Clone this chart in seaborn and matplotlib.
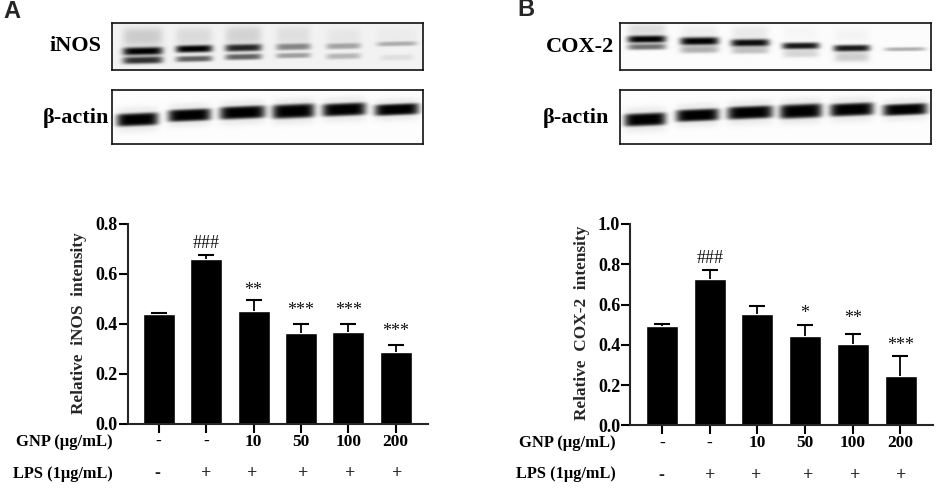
import numpy as np
import pandas as pd
import seaborn as sns
import matplotlib
matplotlib.use("Agg")
import matplotlib.pyplot as plt

# bar charts
groups = ["ctrl", "lps", "gnp10", "gnp50", "gnp100", "gnp200"]
gnp_labels = ["-", "-", "10", "50", "100", "200"]
lps_labels = ["-", "+", "+", "+", "+", "+"]

inos_mean = [0.439, 0.662, 0.452, 0.366, 0.368, 0.288]
inos_err = [0.006, 0.016, 0.045, 0.036, 0.033, 0.030]
inos_sig = ["", "###", "**", "***", "***", "***"]
cox_mean = [0.491, 0.728, 0.551, 0.443, 0.403, 0.243]
cox_err = [0.013, 0.043, 0.044, 0.056, 0.052, 0.099]
cox_sig = ["", "###", "", "*", "**", "***"]

# blot bands, measured on 3x crops of the picture: centre x, centre y, half width, half height, darkness
inos_bands = [
    ([428, 582, 730, 880, 1030, 1190], [153, 146, 143, 140, 138, 131], [60, 55, 55, 52, 52, 60], [12, 11, 11, 10, 9, 7], [1.0, 1.0, 0.85, 0.45, 0.32, 0.28]),
    ([428, 582, 730, 880, 1030, 1190], [180, 176, 170, 166, 168, 172], [60, 55, 55, 52, 52, 50], [11, 9, 9, 8, 9, 9], [0.8, 0.6, 0.6, 0.35, 0.25, 0.08]),
    ([428, 582, 730, 880, 1030, 1190], [110, 108, 105, 105, 110, 110], [60, 55, 55, 52, 52, 60], [28, 26, 28, 28, 26, 26], [0.16, 0.1, 0.13, 0.08, 0.05, 0.03]),
]
cox_bands = [
    ([530, 688, 840, 992, 1145, 1305], [117, 123, 128, 137, 144, 147], [58, 58, 58, 56, 55, 62], [11, 12, 11, 10, 10, 6], [1.0, 1.0, 0.95, 0.9, 0.9, 0.3]),
    ([530, 688, 840, 992, 1145, 1305], [140, 148, 150, 160, 170, 150], [58, 58, 56, 54, 52, 40], [9, 11, 11, 12, 15, 4], [0.55, 0.3, 0.24, 0.15, 0.18, 0.0]),
    ([530, 688, 840, 992, 1145, 1305], [88, 95, 100, 100, 105, 110], [58, 55, 55, 50, 50, 50], [18, 20, 22, 20, 20, 20], [0.12, 0.05, 0.07, 0.02, 0.03, 0.0]),
]
actin_y = [358, 345, 337, 333, 328, 328]
actin_hh = [19, 18, 19, 21, 19, 17]
actin_hw = [62, 64, 68, 63, 65, 66]
actin_haze = [38, 36, 38, 40, 38, 34]
actin_a_x = [412, 568, 727, 880, 1032, 1190]
actin_b_x = [525, 682, 840, 992, 1145, 1305]
actin_a = [(actin_a_x, actin_y, actin_hw, actin_hh, [1.0] * 6), (actin_a_x, actin_y, actin_hw, actin_haze, [0.08] * 6)]
actin_b = [(actin_b_x, actin_y, actin_hw, actin_hh, [1.0] * 6), (actin_b_x, actin_y, actin_hw, actin_haze, [0.08] * 6)]

sns.set_theme(style="ticks")
plt.rcParams["font.family"] = ["Liberation Serif", "DejaVu Sans"]
plt.rcParams["font.weight"] = "bold"

W, H = 941, 492
fig = plt.figure(figsize=(W / 100, H / 100), dpi=100, facecolor="white")


def px_axes(x0, x1, y0, y1):
    # y0 is the top edge, counted from the top of the picture
    return fig.add_axes([x0 / W, 1 - y1 / H, (x1 - x0) / W, (y1 - y0) / H])


def blot(box, crop_x, bands, paper, tilt, sharp):
    ax = px_axes(*box)
    x0, x1 = (box[0] - crop_x) * 3, (box[1] - crop_x) * 3
    y0, y1 = box[2] * 3, box[3] * 3
    xx, yy = np.meshgrid(np.arange(x0, x1), np.arange(y0, y1))
    clear = np.ones_like(xx, dtype=float)
    for row in bands:
        for cx, cy, hw, hh, d in zip(*row):
            dx = (xx - cx) / hw
            dy = (yy - cy - tilt * (xx - cx)) / hh
            clear *= 1 - d * np.exp(-(np.abs(dx) ** 6) - np.abs(dy) ** sharp)
    ax.imshow(paper * clear, cmap="gray", vmin=0, vmax=1, aspect="auto", interpolation="bilinear")
    ax.set_xticks([])
    ax.set_yticks([])
    for s in ax.spines.values():
        s.set_linewidth(1.2)
        s.set_color("#111111")


def bars(box, center0, step, means, errs, sig, sig_px, lps_shift, ymax, yticks, ylabel, lab_x, lab_y):
    ax = px_axes(*box)
    df = pd.DataFrame({"group": groups, "value": means})
    sns.barplot(data=df, x="group", y="value", color="black", saturation=1, width=32 / step, ax=ax)
    eb = ax.errorbar(range(6), means, yerr=[np.zeros(6), errs], fmt="none", ecolor="black",
                     elinewidth=1.3, capsize=5.5, capthick=1.5)
    eb[1][0].set_visible(False)
    ax.set_xlim((box[0] - center0) / step, (box[1] - center0) / step)
    ax.set_ylim(0, ymax)
    ax.patch.set_alpha(0)
    sns.despine(ax=ax)
    for s in ["left", "bottom"]:
        ax.spines[s].set_linewidth(1.5)
    ax.tick_params(axis="both", width=1.5, length=6.3, color="black", labelcolor="black")
    ax.set_yticks(yticks)
    ax.set_yticklabels(["%.1f" % t for t in yticks], fontsize=13, fontweight="bold")
    ax.tick_params(axis="y", pad=1)
    ax.set_xticks(range(6))
    ax.set_xticklabels(gnp_labels, fontsize=12.5, fontweight="bold")
    ax.tick_params(axis="x", pad=1)
    ax.set_xlabel("")
    ax.set_ylabel("")
    for i, s in enumerate(sig):
        if s:
            ax.annotate(s, (i, means[i] + errs[i]), xytext=(0, sig_px[i] * 0.72), textcoords="offset points",
                        ha="center", va="center", fontsize=13, fontweight="normal", color="#111111")
        ax.annotate(lps_labels[i], (i, 0), xytext=(lps_shift[i] * 0.72, -50 * 0.72),
                    textcoords="offset points", ha="center", va="center", fontsize=13, fontweight="bold")
    fig.text(lab_x / W, 1 - lab_y / H, ylabel, rotation=90, ha="center", va="center", fontsize=12.4, fontweight="bold")
    return ax


def txt(x, y, s, **kw):
    fig.text(x / W, 1 - y / H, s, va="center", fontweight="bold", color="black", **kw)


# panel A
blot((112, 423, 23, 70), 0, inos_bands, 0.95, -0.02, 3.0)
blot((112, 423, 90, 144), 0, actin_a, 0.99, -0.04, 5.0)
bars((127.7, 428, 224, 424), 158.7, 47.4, inos_mean, inos_err, inos_sig,
     [0, 11, 9, 13, 13, 13], [-1, 0, -1, 2, 1.5, 1], 0.8, [0, 0.2, 0.4, 0.6, 0.8],
     "Relative  iNOS  intensity", 79, 323)

# panel B
blot((620, 931, 23, 70), 470, cox_bands, 0.985, -0.01, 3.0)
blot((620, 931, 90, 144), 470, actin_b, 0.99, -0.04, 5.0)
bars((630.3, 932.7, 224, 425.3), 662, 47.7, cox_mean, cox_err, cox_sig,
     [0, 12, 0, 11, 15, 11], [-1, 0, -1, 3, 2, 1], 1.0, [0, 0.2, 0.4, 0.6, 0.8, 1.0],
     "Relative  COX-2  intensity", 582.5, 323)

# blot names and row labels
txt(101, 46, "iNOS", ha="right", fontsize=16)
txt(109, 118, "β-actin", ha="right", fontsize=16)
txt(614, 47, "COX-2", ha="right", fontsize=16)
txt(609, 118, "β-actin", ha="right", fontsize=16)
txt(113, 441.5, "GNP (μg/mL)", ha="right", fontsize=12)
txt(616, 443, "GNP (μg/mL)", ha="right", fontsize=12)
txt(113, 473.5, "LPS (1μg/mL)", ha="right", fontsize=11.8)
txt(616, 474.5, "LPS (1μg/mL)", ha="right", fontsize=11.8)
fig.text(3 / W, 1 - 12 / H, "A", family="Liberation Sans", fontsize=17, fontweight="bold", va="center")
fig.text(517 / W, 1 - 10 / H, "B", family="Liberation Sans", fontsize=17, fontweight="bold", va="center")

fig.savefig("out.png", dpi=100)
